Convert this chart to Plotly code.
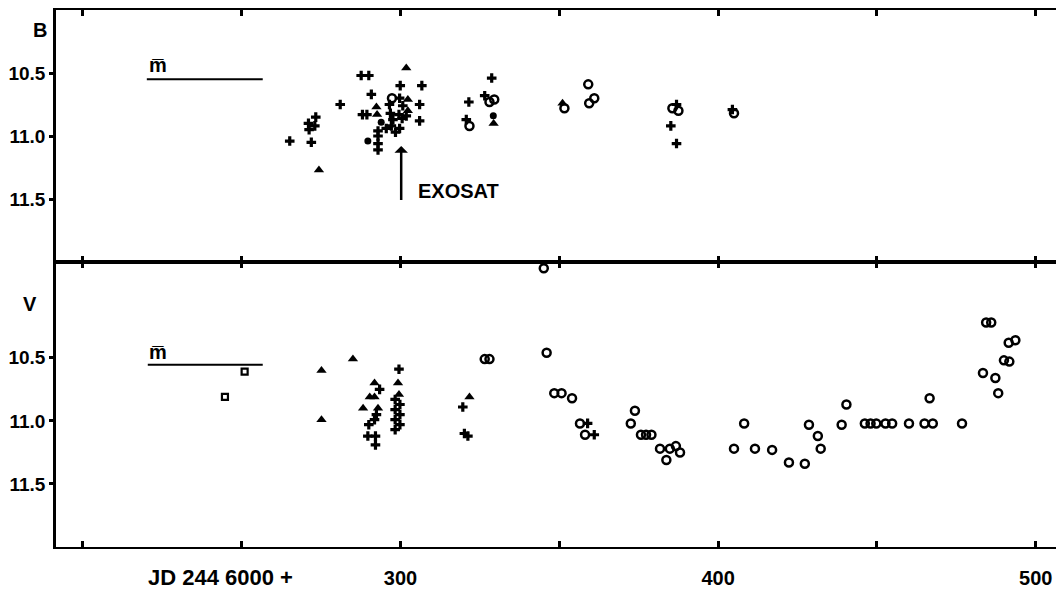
import plotly.graph_objects as go

# ---------------- data (JD 2446000 + , magnitude) ----------------
# B band
b_plus_x = [265.1, 271.9, 271.0, 273.0, 271.2, 273.3, 281.0, 287.6, 290.0, 290.8, 288.0, 289.4,
            292.9, 292.9, 292.9, 292.9, 295.5, 297.1, 298.4, 296.5, 296.8, 297.6, 299.7, 299.9,
            300.7, 299.5, 300.5, 299.7, 301.8, 306.7, 306.0, 306.0, 328.7, 321.5, 320.7, 326.5,
            385.1, 386.9, 386.9, 404.5]
b_plus_y = [11.04, 11.05, 10.90, 10.92, 10.95, 10.85, 10.75, 10.52, 10.52, 10.67, 10.83, 10.83,
            10.96, 11.00, 11.06, 11.11, 10.94, 10.92, 10.97, 10.75, 10.82, 10.87, 10.70, 10.60,
            10.76, 10.83, 10.86, 10.94, 10.84, 10.60, 10.75, 10.88, 10.54, 10.73, 10.87, 10.68,
            10.92, 11.06, 10.75, 10.79]
b_tri_x = [274.3, 292.4, 292.6, 302.3, 302.3, 301.8, 329.3, 351.0]
b_tri_y = [11.27, 10.77, 10.83, 10.71, 10.80, 10.46, 10.90, 10.74]
b_dot_x = [289.7, 293.9, 329.2]
b_dot_y = [11.04, 10.89, 10.84]
b_circ_x = [297.3, 321.7, 328.0, 329.5, 351.6, 359.1, 359.4, 361.0, 385.6, 387.5, 405.0]
b_circ_y = [10.70, 10.92, 10.73, 10.71, 10.78, 10.59, 10.74, 10.70, 10.78, 10.80, 10.82]
b_mean_x = [220.1, 256.6]
b_mean_y = [10.55, 10.55]

# V band
v_sq_x = [244.7, 250.9]
v_sq_y = [10.81, 10.61]
v_tri_x = [275.1, 275.1, 285.0, 291.8, 290.3, 291.8, 288.2, 292.9, 299.2, 299.5, 321.7]
v_tri_y = [10.60, 10.99, 10.51, 10.70, 10.81, 10.81, 10.90, 10.90, 10.70, 10.79, 10.81]
v_plus_x = [293.4, 292.4, 291.8, 290.0, 289.7, 292.1, 292.1, 299.5, 298.3, 298.3, 298.3, 298.3,
            299.8, 299.8, 299.8, 319.6, 320.1, 321.2, 358.9, 361.0]
v_plus_y = [10.75, 10.95, 10.99, 11.03, 11.12, 11.12, 11.19, 10.59, 10.83, 10.91, 10.99, 11.07,
            10.87, 10.95, 11.03, 10.89, 11.10, 11.12, 11.02, 11.11]
v_circ_x = [326.5, 328.0, 345.1, 346.0, 348.4, 350.7, 354.0, 356.5, 358.1, 372.5, 373.8, 375.7,
            377.3, 379.0, 381.7, 383.7, 384.8, 386.7, 388.0, 405.0, 408.2, 411.6, 417.0, 422.3,
            427.3, 428.6, 431.4, 432.3, 438.9, 440.4, 446.2, 448.0, 449.8, 452.7, 454.8, 460.1,
            465.0, 467.6, 466.6, 476.8, 483.4, 484.4, 486.0, 487.3, 488.2, 490.0, 491.7, 491.5,
            493.6]
v_circ_y = [10.51, 10.51, 9.79, 10.46, 10.78, 10.78, 10.82, 11.02, 11.11, 11.02, 10.92, 11.11,
            11.11, 11.11, 11.22, 11.31, 11.22, 11.20, 11.25, 11.22, 11.02, 11.22, 11.23, 11.33,
            11.34, 11.03, 11.12, 11.22, 11.03, 10.87, 11.02, 11.02, 11.02, 11.02, 11.02, 11.02,
            11.02, 11.02, 10.82, 11.02, 10.62, 10.22, 10.22, 10.66, 10.78, 10.52, 10.53, 10.38,
            10.36]
v_mean_x = [220.4, 256.6]
v_mean_y = [10.555, 10.555]

x_tickvals = [200, 250, 300, 350, 400, 450, 500]
x_ticktext = ["", "", "<b>300</b>", "", "<b>400</b>", "", "<b>500</b>"]
y_tickvals = [10.5, 11.0, 11.5]
y_ticktext = ["<b>10.5</b>", "<b>11.0</b>", "<b>11.5</b>"]

# ---------------- figure ----------------
FONT = "Liberation Sans, Arial, sans-serif"
INK = "black"

fig = go.Figure()

def add_marks(x, y, symbol, size, xa, ya, lw=0):
    fig.add_trace(go.Scatter(
        x=x, y=y, mode="markers", xaxis=xa, yaxis=ya, showlegend=False,
        marker=dict(symbol=symbol, size=size, color=INK, line=dict(color=INK, width=lw))))

# top panel (B)
add_marks(b_plus_x, b_plus_y, "cross", 8, "x2", "y2")
add_marks(b_tri_x, b_tri_y, "triangle-up", 9, "x2", "y2")
add_marks(b_dot_x, b_dot_y, "circle", 7, "x2", "y2")
add_marks(b_circ_x, b_circ_y, "circle-open", 8, "x2", "y2", lw=2.5)
fig.add_trace(go.Scatter(x=b_mean_x, y=b_mean_y, mode="lines", xaxis="x2", yaxis="y2",
                         line=dict(color=INK, width=2), showlegend=False))

# bottom panel (V)
add_marks(v_sq_x, v_sq_y, "square-open", 6, "x", "y", lw=2.2)
add_marks(v_tri_x, v_tri_y, "triangle-up", 9, "x", "y")
add_marks(v_plus_x, v_plus_y, "cross", 8, "x", "y")
add_marks(v_circ_x, v_circ_y, "circle-open", 8, "x", "y", lw=2.5)
fig.add_trace(go.Scatter(x=v_mean_x, y=v_mean_y, mode="lines", xaxis="x", yaxis="y",
                         line=dict(color=INK, width=2), showlegend=False))

split = 285 / 537.0
xrange = [191.5, 508.6]

common_x = dict(range=xrange, tickvals=x_tickvals, showline=True, linecolor=INK, linewidth=2,
                ticks="inside", ticklen=6, tickwidth=2.5, tickcolor=INK, showgrid=False,
                zeroline=False, mirror="ticks", automargin=False)
common_y = dict(tickvals=y_tickvals, ticktext=y_ticktext, showline=True, linecolor=INK,
                linewidth=2.5, ticks="outside", ticklen=4, tickwidth=2.5, tickcolor=INK,
                showgrid=False, zeroline=False, automargin=False,
                tickfont=dict(family=FONT, size=19, color=INK))

# the page body adds an 8 px offset; margins compensate for it
fig.update_layout(
    width=1064, height=590,
    margin=dict(l=48, r=9, t=2, b=51),
    paper_bgcolor="white", plot_bgcolor="white",
    showlegend=False,
    xaxis=dict(**common_x, anchor="y", ticktext=x_ticktext,
               tickfont=dict(family=FONT, size=20, color=INK), ticklabelstandoff=12),
    xaxis2=dict(**common_x, anchor="y2", matches="x", showticklabels=False),
    yaxis=dict(**common_y, domain=[0, split], range=[12.0, 9.74], anchor="x"),
    yaxis2=dict(**common_y, domain=[split, 1], range=[12.0, 10.0], anchor="x2"),
)

def px_to_paper_x(px):
    return (px - 56) / (1063 - 56)

ann_font = dict(family=FONT, size=20, color=INK)
fig.add_annotation(text="<b>B</b>", x=px_to_paper_x(31), xref="paper", y=10.16, yref="y2",
                   showarrow=False, font=ann_font)
fig.add_annotation(text="<b>V</b>", x=px_to_paper_x(21), xref="paper", y=10.07, yref="y",
                   showarrow=False, font=ann_font)
fig.add_annotation(text="<b>m\u0305</b>", x=223.6, xref="x2", y=10.44, yref="y2",
                   showarrow=False, font=ann_font)
fig.add_annotation(text="<b>m\u0305</b>", x=223.6, xref="x", y=10.45, yref="y",
                   showarrow=False, font=ann_font)
fig.add_annotation(text="<b>JD 244 6000 +</b>", x=243.4, xref="x", y=-0.057, yref="paper",
                   yanchor="middle", showarrow=False,
                   font=dict(family=FONT, size=22, color=INK))
# EXOSAT arrow
fig.add_annotation(text="", x=300.2, y=11.08, xref="x2", yref="y2",
                   ax=300.2, ay=11.52, axref="x2", ayref="y2",
                   showarrow=True, arrowhead=1, arrowsize=0.9, arrowwidth=2.5, arrowcolor=INK)
fig.add_annotation(text="<b>EXOSAT</b>", x=305, xanchor="left", xref="x2", y=11.44, yref="y2",
                   showarrow=False, font=ann_font)

fig.write_html("out.html")
